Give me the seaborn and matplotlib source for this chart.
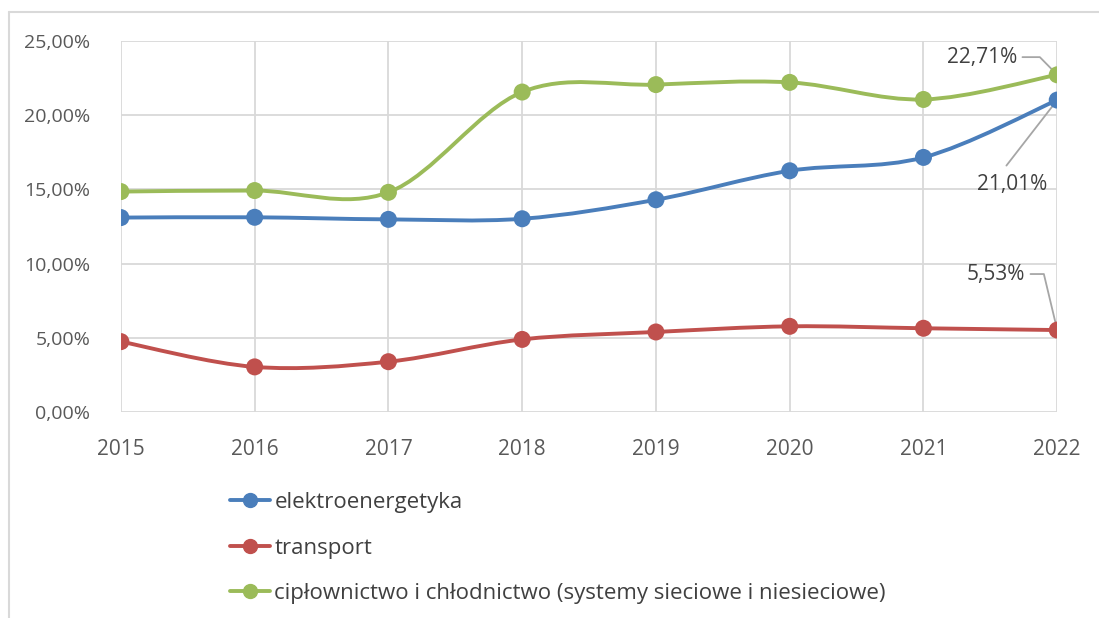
import numpy as np
import pandas as pd
import seaborn as sns
import matplotlib.pyplot as plt
from matplotlib.path import Path
from matplotlib.patches import PathPatch
from matplotlib.lines import Line2D

lata = [2015, 2016, 2017, 2018, 2019, 2020, 2021, 2022]
elektro = [13.10, 13.12, 12.98, 13.02, 14.30, 16.25, 17.15, 21.01]
transport = [4.75, 3.05, 3.40, 4.90, 5.40, 5.78, 5.65, 5.53]
cieplo = [14.85, 14.92, 14.80, 21.55, 22.05, 22.20, 21.05, 22.71]

nazwy = ["elektroenergetyka", "transport",
         "cipłownictwo i chłodnictwo (systemy sieciowe i niesieciowe)"]
kolory = ["#4a7ebb", "#c0504d", "#9bbb59"]

df = pd.DataFrame({
    "Rok": lata * 3,
    "Wartosc": elektro + transport + cieplo,
    "Seria": [nazwy[0]] * 8 + [nazwy[1]] * 8 + [nazwy[2]] * 8,
})

sns.set_style("white")
plt.rcParams["font.family"] = ["Open Sans", "DejaVu Sans"]

fig = plt.figure(figsize=(10.99, 6.18), dpi=100)
ax = fig.add_axes([0.110, 0.333, 0.852, 0.601])


def gladka_sciezka(xs, ys):
    # krzywa Beziera jak "wygładzona linia" w Excelu
    xs = np.asarray(xs, float)
    ys = np.asarray(ys, float)
    n = len(xs)
    verts = [(xs[0], ys[0])]
    codes = [Path.MOVETO]
    for i in range(n - 1):
        i0 = max(i - 1, 0)
        i3 = min(i + 2, n - 1)
        c1 = (xs[i] + (xs[i + 1] - xs[i0]) / 6, ys[i] + (ys[i + 1] - ys[i0]) / 6)
        c2 = (xs[i + 1] - (xs[i3] - xs[i]) / 6, ys[i + 1] - (ys[i3] - ys[i]) / 6)
        verts += [c1, c2, (xs[i + 1], ys[i + 1])]
        codes += [Path.CURVE4] * 3
    return Path(verts, codes)


for seria, kolor in zip([elektro, transport, cieplo], kolory):
    ax.add_patch(PathPatch(gladka_sciezka(lata, seria), facecolor="none",
                           edgecolor=kolor, lw=2.8, zorder=3))

sns.scatterplot(data=df, x="Rok", y="Wartosc", hue="Seria", palette=kolory,
                s=150, edgecolor="none", ax=ax, zorder=4, legend=False)

ax.set_xlim(2015, 2022)
ax.set_ylim(0, 25)
ax.set_xticks(lata)
ax.set_yticks(np.arange(0, 26, 5))
ax.set_yticklabels([f"{v:.2f}%".replace(".", ",") for v in np.arange(0, 26, 5)])
ax.grid(True, color="#d9d9d9", lw=1.3)
for s in ax.spines.values():
    s.set_visible(False)
ax.tick_params(axis="both", length=0, labelcolor="#595959")
ax.tick_params(axis="y", pad=22, labelsize=14)
ax.tick_params(axis="x", pad=19, labelsize=15)
ax.set_xlabel("")
ax.set_ylabel("")

# etykiety danych z liniami odniesienia
szary = "#a6a6a6"
tekst = "#404040"
ax.plot([2021.74, 2021.87, 2022], [23.9, 23.9, 22.71],
        color=szary, lw=1.3, zorder=2)
ax.text(2021.70, 23.9, "22,71%", ha="right", va="center",
        fontsize=15, color=tekst)
ax.plot([2021.62, 2022], [16.6, 21.01], color=szary, lw=1.3, zorder=2)
ax.text(2021.66, 16.0, "21,01%", ha="center", va="top",
        fontsize=15, color=tekst)
ax.plot([2021.80, 2021.90, 2022], [9.3, 9.3, 5.53], color=szary, lw=1.3, zorder=2)
ax.text(2021.76, 9.3, "5,53%", ha="right", va="center",
        fontsize=15, color=tekst)

uchwyty = [Line2D([0], [0], color=k, lw=2.8, marker="o", markersize=10)
           for k in kolory]
fig.legend(uchwyty, nazwy, loc="upper left", bbox_to_anchor=(0.191, 0.236),
           frameon=False, fontsize=16, labelcolor=tekst,
           handlelength=1.8, handletextpad=0.2, labelspacing=1.1)

# ramka wykresu
fig.add_artist(Line2D([0.008, 0.008], [0, 0.981], color="#d9d9d9", lw=1.5))
fig.add_artist(Line2D([0.008, 1.0], [0.981, 0.981], color="#d9d9d9", lw=1.5))

fig.savefig("out.png", dpi=100)
